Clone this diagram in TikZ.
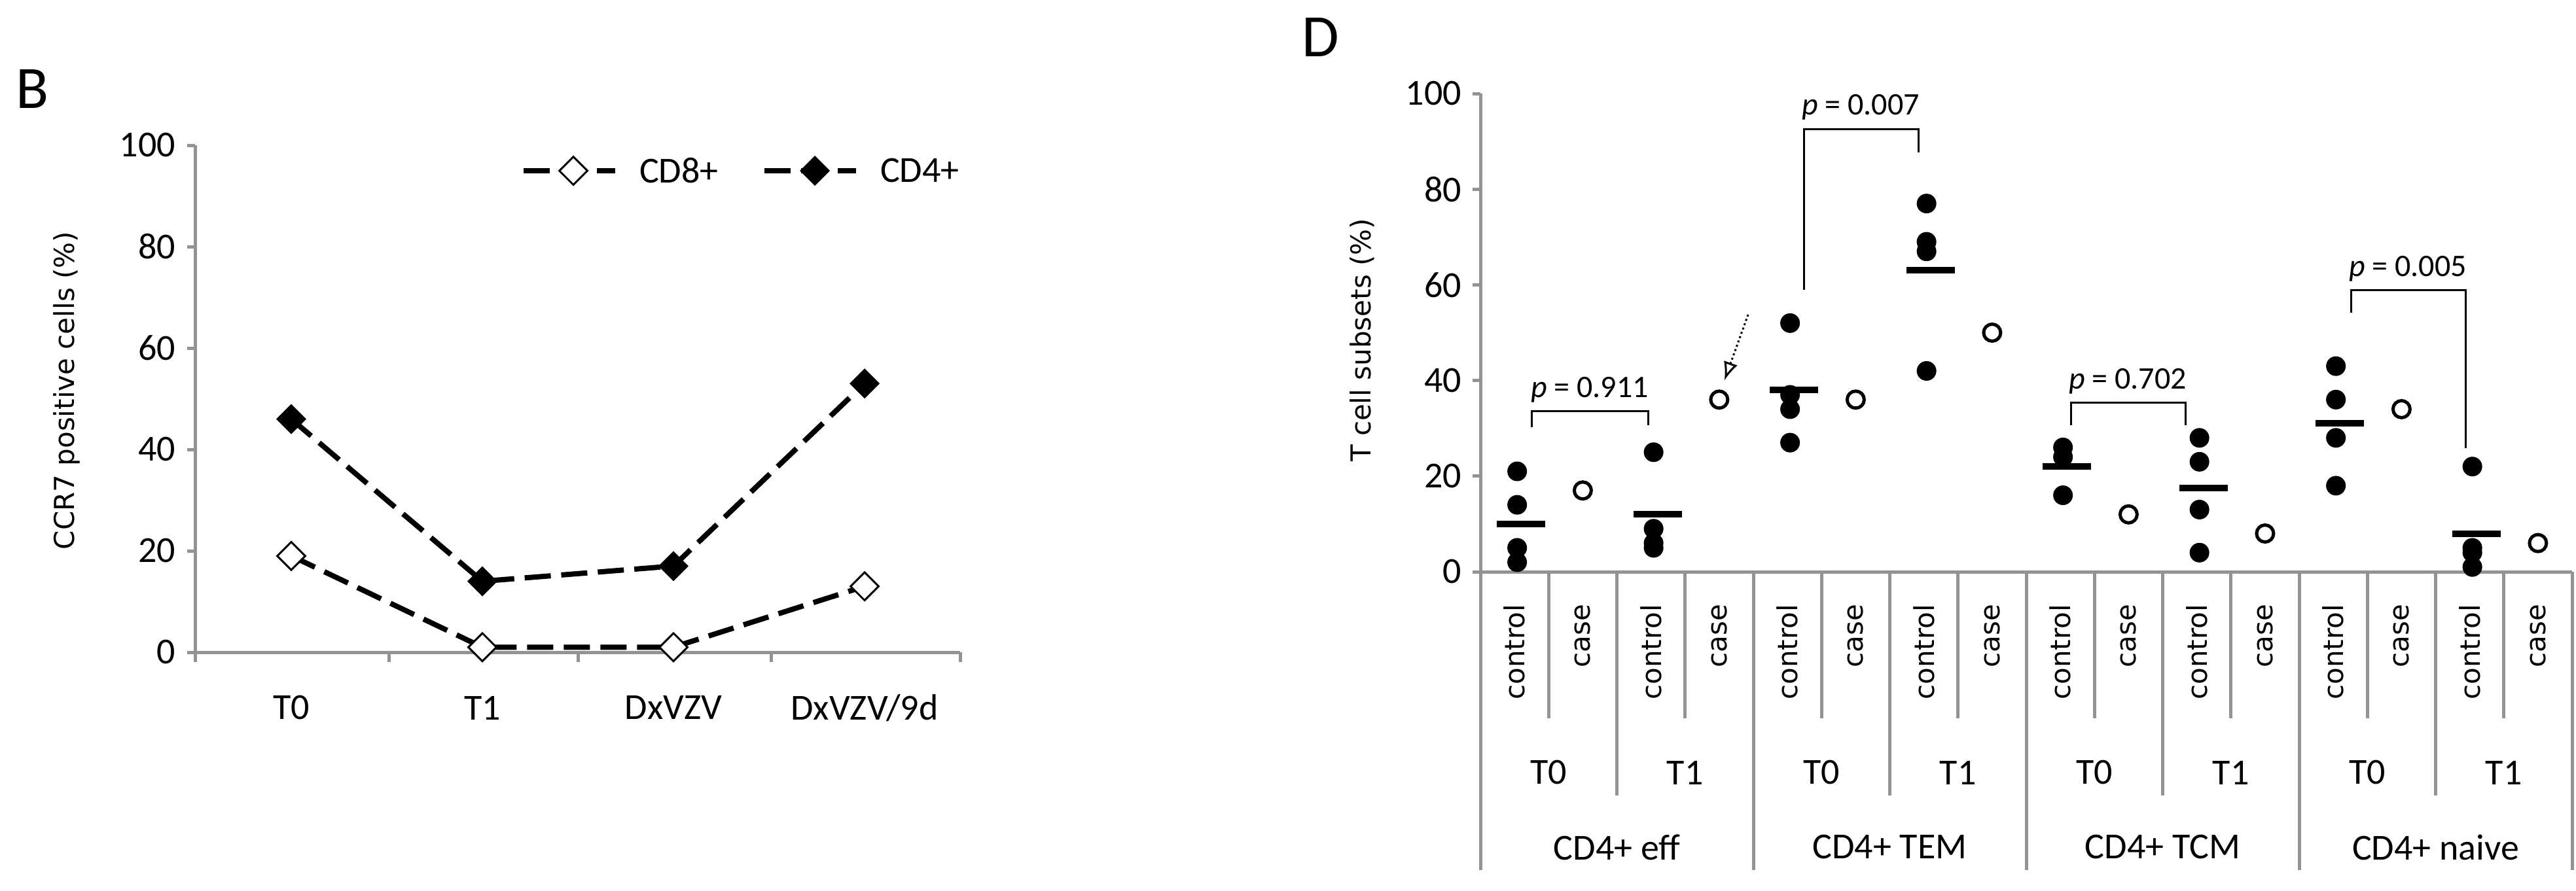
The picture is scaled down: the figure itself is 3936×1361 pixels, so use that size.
\documentclass[tikz,border=0pt]{standalone}
\usepackage{fontspec}
\setmainfont{Carlito}
\newfontfamily\dv{DejaVu Sans}
\usetikzlibrary{shapes.geometric,arrows.meta}
\newcommand\rx[1]{2262+104.25*(#1+0.5)}
\newcommand\ry[1]{874-7.31*(#1)}
\newcommand\ly[1]{997-7.75*(#1)}
\begin{document}
\begin{tikzpicture}[x=0.5pt,y=-0.5pt,
  ax/.style={draw=gray!85, line width=2.5pt},
  dl/.style={line width=4pt, dash pattern=on 20pt off 8pt},
  dfill/.style={diamond, fill=black, draw=black, line width=1pt, minimum size=22pt, inner sep=0pt},
  dopen/.style={diamond, fill=white, draw=black, line width=1.5pt, minimum size=22pt, inner sep=0pt},
  dot/.style={circle, fill=black, minimum size=15pt, inner sep=0pt},
  odot/.style={circle, draw=black, fill=white, line width=2.5pt, minimum size=13pt, inner sep=0pt},
  mbar/.style={fill=black, minimum width=37pt, minimum height=5pt, inner sep=0pt},
  tl/.style={font=\fontsize{28}{30}\selectfont},
  rot/.style={font=\dv\fontsize{21}{23}\selectfont, rotate=90, anchor=east},
  br/.style={line width=1.5pt},
  pl/.style={font=\fontsize{24}{26}\selectfont, anchor=south}]
\useasboundingbox (0,0) rectangle (3936,1361);
% ---------- Panel B ----------
\node[font=\fontsize{46}{48}\selectfont] (B) at (50,136) {B};
\draw[ax] (298,222) -- (298,997) -- (1467,997);
\foreach \v in {0,20,...,100}{
  \draw[ax] (286,{\ly{\v}}) -- (298,{\ly{\v}});
  \node[tl,anchor=east] (ly\v) at (275,{\ly{\v}}) {\v};}
\foreach \x in {298,594,883,1178,1467} \draw[ax] (\x,997) -- (\x,1012);
\node[tl] (c1) at (445,1082) {T0};
\node[tl] (c2) at (737,1082) {T1};
\node[tl] (c3) at (1029,1082) {DxVZV};
\node[tl] (c4) at (1321,1082) {DxVZV/9d};
\node[font=\dv\fontsize{21}{23}\selectfont, rotate=90] (ylab) at (102,597) {CCR7 positive cells (\%)};
\coordinate (a1) at (445,{\ly{46}}); \coordinate (a2) at (737,{\ly{14}});
\coordinate (a3) at (1029,{\ly{17}}); \coordinate (a4) at (1321,{\ly{53}});
\coordinate (b1) at (445,{\ly{19}}); \coordinate (b2) at (737,{\ly{1}});
\coordinate (b3) at (1029,{\ly{1}}); \coordinate (b4) at (1321,{\ly{13}});
\draw[dl] (a1) -- (a2) -- (a3) -- (a4);
\draw[dl] (b1) -- (b2) -- (b3) -- (b4);
\foreach \i in {1,...,4}{ \node[dfill] (A\i) at (a\i) {}; \node[dopen] (Bm\i) at (b\i) {}; }
\coordinate (l1a) at (800,261); \coordinate (l1b) at (940,261);
\coordinate (l2a) at (1168,261); \coordinate (l2b) at (1308,261);
\draw[dl] (l1a) -- (l1b); \draw[dl] (l2a) -- (l2b);
\node[dopen] (lg1) at (876,261) {}; \node[dfill] (lg2) at (1245,261) {};
\node[tl,anchor=west] (lt1) at (970,261) {CD8+};
\node[tl,anchor=west] (lt2) at (1338,261) {CD4+};
% ---------- Panel D ----------
\node[font=\fontsize{46}{48}\selectfont] (D) at (2018,57) {D};
\draw[ax] (2262,143) -- (2262,1330);
\draw[ax] (2262,874) -- (3930,874);
\foreach \v in {0,20,...,100}{
  \draw[ax] (2250,{\ry{\v}}) -- (2262,{\ry{\v}});
  \node[tl,anchor=east] (ry\v) at (2240,{\ry{\v}}) {\v};}
\node[font=\dv\fontsize{21}{23}\selectfont, rotate=90] (ylab2) at (2081,520) {T cell subsets (\%)};
\foreach \k in {1,3,5,7,9,11,13,15} \draw[ax] ({2262+104.25*\k},874) -- ({2262+104.25*\k},1098);
\foreach \k in {2,6,10,14} \draw[ax] ({2262+104.25*\k},874) -- ({2262+104.25*\k},1216);
\foreach \k in {4,8,12,16} \draw[ax] ({2262+104.25*\k},874) -- ({2262+104.25*\k},1330);
\foreach \i in {0,2,...,14} \node[rot] at ({\rx{\i}},917) {control};
\foreach \i in {1,3,...,15} \node[rot] at ({\rx{\i}},917) {case};
\foreach \i in {0,4,8,12} \node[tl] at ({2262+104.25*(\i+1)},1181) {T0};
\foreach \i in {2,6,10,14} \node[tl] at ({2262+104.25*(\i+1)},1181) {T1};
\foreach \n [count=\j from 0] in {CD4+ eff,CD4+ TEM,CD4+ TCM,CD4+ naive}
  \node[tl] at ({2262+104.25*(4*\j+2)},1295) {\n};
% control dots
\foreach \i/\vals/\m in {0/{21,14,5,2}/10, 2/{25,9,6,5}/12, 4/{52,37,34,27}/38, 6/{77,69,67,42}/63,
    8/{26,24,16}/22, 10/{28,23,13,4}/17.5, 12/{43,36,28,18}/31, 14/{22,5,4,1}/8}{
  \foreach \v in \vals \node[dot] at ({\rx{\i}+4},{\ry{\v}}) {};
  \node[mbar] at ({\rx{\i}+10},{\ry{\m}}) {};}
\foreach \i/\v in {1/17,3/36,5/36,7/50,9/12,11/8,13/34,15/6}
  \node[odot] (case\i) at ({\rx{\i}},{\ry{\v}}) {};
% dotted arrow
\coordinate (arrS) at (2671,481);
\draw[line width=1.5pt, dotted, -{Latex[length=14pt,width=11pt,open]}] (arrS) -- ([shift={(8,-14)}]case3.north);
% brackets
\draw[br] (2340,653) -- (2340,628) -- (2518,628) -- (2518,650);
\node[pl] at (2429,622) {\textit{p} = 0.911};
\draw[br] (2756,443) -- (2756,197) -- (2931,197) -- (2931,233);
\node[pl] at (2843,190) {\textit{p} = 0.007};
\draw[br] (3164,650) -- (3164,615) -- (3339,615) -- (3339,650);
\node[pl] at (3251,609) {\textit{p} = 0.702};
\draw[br] (3592,478) -- (3592,443) -- (3767,443) -- (3767,685);
\node[pl] at (3679,437) {\textit{p} = 0.005};
\end{tikzpicture}
\end{document}
